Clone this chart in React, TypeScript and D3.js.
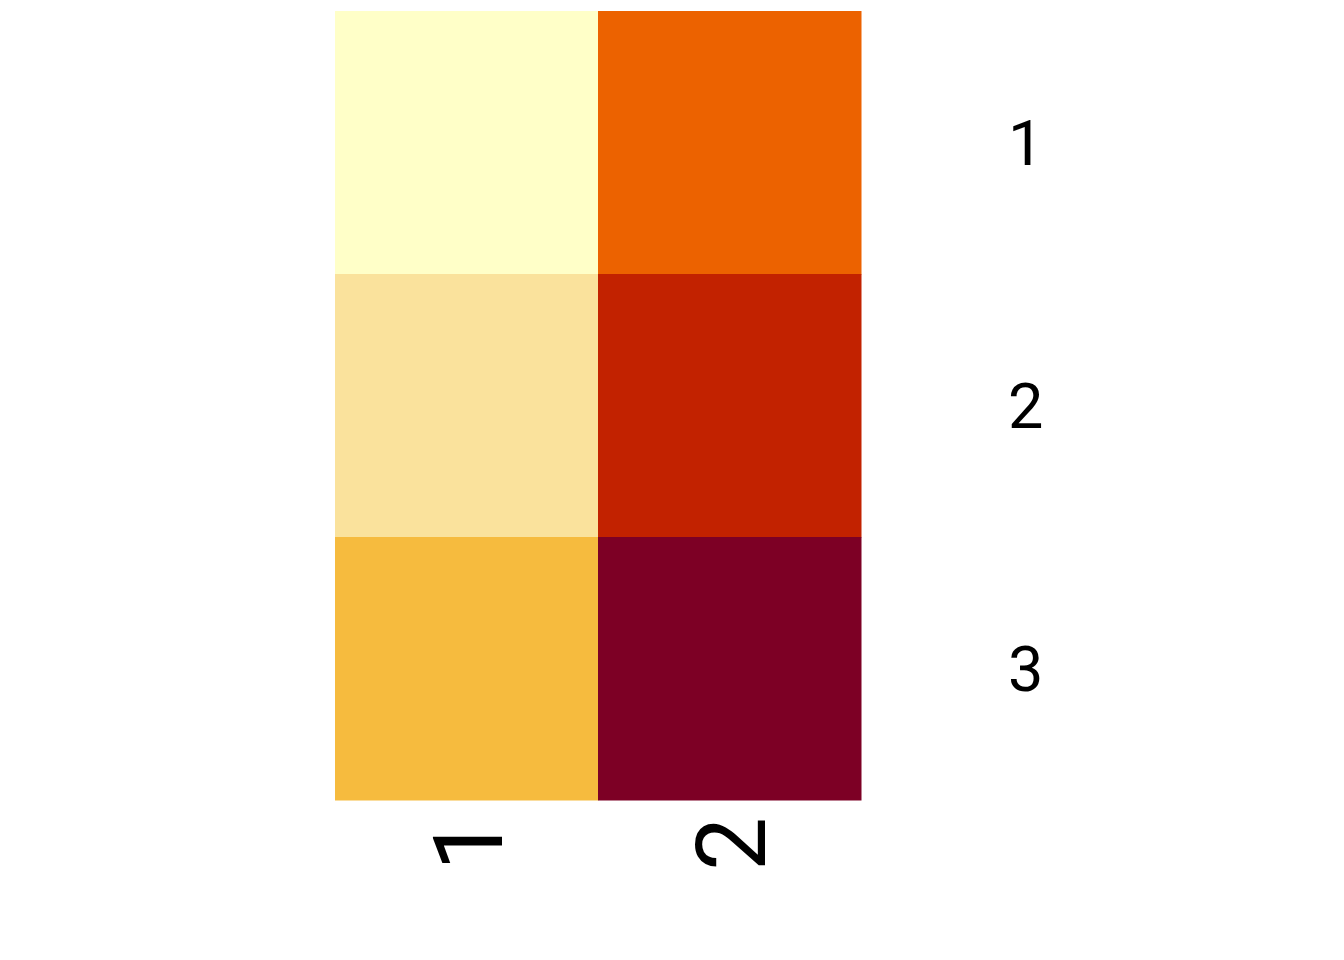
import React, { useEffect, useRef } from 'react';
import * as d3 from 'd3';

const rowLabels = ['1', '2', '3'];
const colLabels = ['1', '2'];
// values[col][row]
const col1Values = [1, 2, 3];
const col2Values = [4, 5, 6];
const palette = ['#FFFFC8', '#FAE29C', '#F6BB3E', '#EC6200', '#C22200', '#7D0025'];

const App = () => {
  const svgRef = useRef<SVGSVGElement>(null);

  useEffect(() => {
    document.body.style.margin = '0';
    const svg = d3.select(svgRef.current);
    svg.selectAll('*').remove();

    const width = 1344;
    const height = 960;
    const plot = { left: 335, right: 861, top: 11, bottom: 800 };

    const x = d3.scaleBand().domain(colLabels).range([plot.left, plot.right]).padding(0);
    const y = d3.scaleBand().domain(rowLabels).range([plot.top, plot.bottom]).padding(0);
    const color = d3.scaleOrdinal<number, string>().domain([1, 2, 3, 4, 5, 6]).range(palette);

    const cells: { col: string; row: string; v: number }[] = [];
    [col1Values, col2Values].forEach((vals, ci) => {
      vals.forEach((v, ri) => cells.push({ col: colLabels[ci], row: rowLabels[ri], v }));
    });

    svg.append('rect').attr('width', width).attr('height', height).attr('fill', '#fff');

    svg.append('g')
      .selectAll('rect')
      .data(cells)
      .enter().append('rect')
      .attr('x', d => x(d.col)!)
      .attr('y', d => y(d.row)!)
      .attr('width', x.bandwidth() + 0.5)
      .attr('height', y.bandwidth() + 0.5)
      .attr('fill', d => color(d.v));

    const font = 'Roboto, Liberation Sans, Arial, sans-serif';

    // row labels on the right
    svg.append('g')
      .selectAll('text')
      .data(rowLabels)
      .enter().append('text')
      .attr('x', 1008)
      .attr('y', d => y(d)! + y.bandwidth() / 2)
      .attr('dy', '0.36em')
      .attr('font-family', font)
      .attr('font-size', 63)
      .attr('fill', '#000')
      .text(d => d);

    // column labels, rotated
    svg.append('g')
      .selectAll('text')
      .data(colLabels)
      .enter().append('text')
      .attr('transform', d => `translate(${x(d)! + x.bandwidth() / 2 + 35},817) rotate(-90)`)
      .attr('text-anchor', 'end')
      .attr('font-family', font)
      .attr('font-size', 96)
      .attr('fill', '#000')
      .text(d => d);
  }, []);

  return <svg ref={svgRef} width={1344} height={960} style={{ display: 'block' }}></svg>;
};

export default App;
